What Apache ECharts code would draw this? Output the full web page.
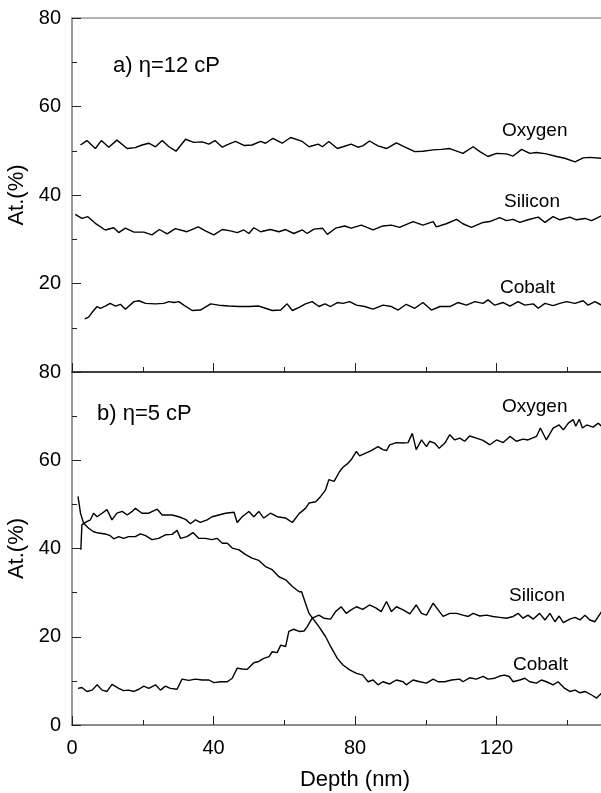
<!DOCTYPE html>
<html>
<head>
<meta charset="utf-8">
<script src="https://cdn.jsdelivr.net/npm/echarts@6/dist/echarts.min.js"></script>
<style>html,body{margin:0;padding:0;background:#fff;}#c{width:601px;height:793px;}</style>
</head>
<body>
<div id="c"></div>
<script>
// ---- Panel a) eta = 12 cP ----
const depthO12 = [2.4,4.2,6.6,8.3,10.4,12.7,15.6,17.9,19.8,21.7,23.6,25.5,27.4,29.4,32.1,34.4,36.8,38.7,40.4,42.5,44.3,46.2,48.6,50.9,53.3,54.7,56.8,59.4,61.8,65.1,67.0,69.6,70.8,72.6,75.0,76.6,78.9,80.8,82.2,84.1,86.5,88.9,91.7,94.0,96.9,99.2,102.1,104.4,106.8,110.5,113.4,115.3,117.6,120.0,122.8,124.7,127.1,129.4,131.3,134.1,137.0,139.3,142.2,144.5,146.4,149.7];
const oxygen12 = [51.3,52.3,50.5,52.3,50.8,52.4,50.5,50.7,51.3,51.7,50.9,52.3,50.9,49.9,52.6,51.9,52.0,51.5,52.3,50.8,51.5,52.1,51.2,51.3,52.1,51.7,52.8,51.7,53.0,52.1,50.9,51.5,50.9,52.1,50.5,50.9,51.5,50.8,51.1,52.2,51.1,50.5,51.8,50.9,49.8,49.9,50.2,50.3,50.5,49.4,50.9,49.8,48.7,49.4,49.3,48.8,50.3,49.4,49.6,49.3,48.7,48.3,47.5,48.4,48.5,48.3];

const depthSi12 = [0.9,2.8,4.5,6.6,9.4,11.8,13.2,15.1,17.5,20.3,22.6,24.7,26.9,29.2,32.5,35.7,37.7,40.1,42.5,44.8,46.7,48.6,50.0,51.4,53.3,56.1,58.5,60.4,62.7,65.1,66.5,68.4,70.8,72.2,74.5,77.1,78.9,81.8,85.1,87.9,90.3,92.6,96.4,99.2,102.1,103.0,105.8,108.7,110.5,112.9,116.2,118.1,120.9,122.8,124.7,126.6,128.9,131.8,133.7,136.0,137.9,140.7,142.6,145.0,146.9,149.7];
const silicon12 = [35.6,34.7,35.1,33.6,32.1,32.6,31.5,32.5,31.6,31.6,31.0,32.2,31.2,32.4,31.7,32.8,31.9,31.0,32.2,31.9,31.5,32.1,31.3,32.6,31.7,32.2,31.7,32.2,31.3,32.1,31.3,32.3,32.5,31.1,32.5,33.0,32.5,33.2,32.1,33.0,33.2,32.7,34.0,33.2,34.0,32.8,33.5,34.5,33.5,32.7,33.8,34.0,34.9,34.2,34.5,33.8,34.4,35.0,33.8,35.1,34.4,35.0,34.4,34.7,34.2,35.3];

const depthCo12 = [3.6,4.7,6.1,7.1,8.0,9.4,10.8,12.3,13.7,15.1,17.5,18.9,20.8,23.6,25.9,27.4,28.8,30.2,31.6,34.0,36.3,39.2,41.5,44.3,47.2,50.0,52.8,54.7,56.6,59.0,60.8,62.3,64.2,66.0,67.9,69.8,71.5,73.1,75.0,76.6,78.5,80.4,82.7,85.1,87.9,90.3,92.2,94.5,96.9,99.2,101.6,104.0,106.8,109.1,111.5,113.9,116.2,117.6,119.5,121.9,123.8,126.1,128.0,130.4,131.8,133.7,136.0,137.9,139.8,142.2,144.5,145.9,147.8,149.7];
const cobalt12 = [12.0,12.4,13.9,14.8,14.4,14.9,15.5,14.9,15.3,14.2,15.9,16.1,15.5,15.4,15.5,15.9,15.7,15.9,15.1,13.9,14.0,15.4,15.1,14.9,14.8,14.8,14.9,14.4,13.9,14.0,15.4,13.9,14.6,15.4,15.9,14.8,15.4,14.8,15.7,15.5,15.9,15.1,14.8,14.2,15.1,14.8,14.0,15.3,14.4,15.7,14.0,14.8,14.8,15.7,15.1,15.9,15.5,16.3,15.1,15.7,14.9,15.9,15.1,15.4,14.4,15.5,15.0,15.5,15.9,15.5,16.1,15.1,15.9,15.1];

// ---- Panel b) eta = 5 cP ----
const depthO5 = [2.5,2.8,3.3,4.2,5.2,6.1,7.1,8.5,9.9,11.3,12.7,14.2,15.6,17.0,17.9,19.8,21.7,24.1,25.5,28.3,30.2,32.1,33.5,34.9,36.3,38.2,39.6,41.5,43.4,45.8,46.7,48.1,50.0,51.4,52.8,54.2,56.1,58.0,60.4,62.3,64.2,66.0,67.0,68.9,70.3,71.7,72.6,74.1,75.6,76.6,78.0,78.9,80.4,81.3,82.7,84.6,86.5,87.9,88.9,89.8,91.7,93.6,95.0,96.2,97.3,98.8,100.2,101.1,102.5,103.8,105.4,106.8,108.2,109.6,111.0,112.4,114.3,116.2,118.1,120.0,121.9,123.8,125.6,127.5,128.9,131.3,132.4,134.1,136.0,137.7,138.9,140.3,141.7,142.4,143.4,144.3,145.5,147.3,148.8,149.7];
const oxygen5 = [39.7,45.4,45.7,46.1,46.5,48.0,47.2,48.0,48.8,46.5,48.0,48.4,47.6,48.4,49.1,48.0,48.0,48.9,47.6,47.6,47.2,46.6,45.6,46.5,45.9,46.5,47.2,47.6,48.0,48.2,45.9,47.2,48.4,47.2,48.4,46.9,48.0,47.2,46.9,45.9,47.9,49.1,50.3,50.6,51.8,53.3,55.6,55.2,57.4,58.4,59.3,60.1,62.0,61.0,61.5,62.2,63.1,62.4,62.2,63.5,64.0,63.9,64.0,66.1,62.4,64.6,63.1,64.3,63.9,62.7,63.9,65.8,64.6,65.0,64.3,65.5,65.0,64.5,63.5,64.6,64.0,65.4,64.3,64.8,64.6,65.4,67.3,64.6,67.3,68.0,66.9,68.4,69.2,67.7,69.3,67.3,68.0,67.5,68.4,67.7];

const depthSi5 = [1.7,2.8,4.2,5.7,7.1,8.5,9.9,11.3,13.2,14.6,16.0,17.5,18.9,20.3,21.7,23.6,25.0,26.4,27.8,29.7,31.1,33.0,34.9,36.8,38.7,40.1,42.0,43.9,45.3,46.7,48.1,49.5,51.4,52.8,54.2,55.7,56.6,58.0,59.0,60.4,61.3,62.7,64.2,65.6,66.5,67.9,69.8,71.2,73.1,74.5,76.1,77.5,78.9,80.4,82.2,84.1,86.0,87.4,88.9,90.3,91.7,93.6,95.5,97.3,98.8,100.2,102.1,103.5,104.9,106.8,108.7,110.5,112.0,113.4,115.3,117.2,119.0,120.9,122.8,124.7,126.1,127.5,128.9,130.4,132.2,133.7,135.1,136.5,137.7,138.9,140.7,142.2,143.6,145.0,146.4,147.8,148.8,149.7];
const silicon5 = [8.3,8.5,7.6,7.9,9.1,7.9,7.6,9.2,8.3,7.8,7.9,7.6,8.1,8.8,8.3,9.1,7.9,8.8,8.3,8.1,10.4,10.1,10.4,10.2,10.2,9.6,9.8,9.8,10.6,12.9,12.7,12.6,14.1,14.4,15.1,15.5,16.6,16.4,18.1,17.8,21.2,21.7,21.2,21.3,22.3,24.2,24.9,24.2,24.0,25.7,26.8,25.3,26.1,26.8,26.2,27.2,26.5,25.7,28.0,25.7,26.8,26.1,25.2,27.2,25.3,24.9,27.6,26.1,24.6,25.3,25.3,24.9,24.6,25.3,24.7,24.9,24.6,24.4,24.2,24.6,25.3,24.2,24.9,24.0,25.3,23.8,25.3,23.4,24.7,23.2,24.0,24.4,23.8,24.9,23.8,23.4,24.6,25.7];

const depthCo5 = [1.7,2.4,3.3,4.7,6.1,7.5,9.4,10.8,11.8,13.2,14.6,16.0,17.9,19.3,20.8,22.6,24.5,26.4,28.3,29.7,30.7,32.5,34.2,35.8,37.7,39.6,41.0,42.5,43.9,45.3,47.2,49.1,50.9,52.8,54.7,56.6,58.5,60.4,62.3,64.2,64.9,66.0,67.0,68.4,69.8,71.7,73.1,75.0,76.6,78.5,80.4,82.2,83.7,85.1,86.5,87.9,89.8,91.7,93.6,94.5,96.4,98.3,100.2,102.1,103.5,105.4,107.3,109.6,110.5,112.4,114.3,116.2,117.6,119.5,120.9,122.3,123.6,124.7,126.6,128.0,129.4,131.3,132.7,134.1,136.0,137.4,139.3,140.7,142.2,143.6,145.0,146.9,148.3,149.7];
const cobalt5 = [51.8,48.0,45.7,44.6,43.8,43.5,43.3,42.9,42.2,42.7,42.3,42.7,42.7,43.3,42.9,42.0,42.3,43.1,43.2,44.1,42.3,42.7,43.6,42.3,42.3,42.0,42.3,41.2,41.2,40.1,39.7,38.6,37.8,37.3,35.9,35.2,33.6,32.9,31.4,30.2,30.2,27.6,25.3,23.8,22.3,20.0,17.8,15.1,13.6,12.5,11.7,11.3,9.8,10.2,9.1,9.8,9.3,10.2,9.8,9.1,10.2,9.8,9.5,10.4,9.8,9.8,10.2,10.4,9.8,10.7,10.4,11.0,10.4,10.6,11.1,11.3,11.0,9.8,10.2,10.6,9.8,9.5,10.2,9.8,9.1,9.8,8.3,7.6,7.9,7.3,7.6,6.8,6.1,7.2];

const xTicks = [0, 40, 80, 120];
const yTicks = [0, 20, 40, 60, 80];
const panelTitles = ['a) η=12 cP', 'b) η=5 cP'];
const elementNames = ['Oxygen', 'Silicon', 'Cobalt'];

const FONT = 'Liberation Sans, Arial, Helvetica, sans-serif';
function zip(xs, ys) { return xs.map((x, i) => [x, ys[i]]); }

const chart = echarts.init(document.getElementById('c'), null, { renderer: 'canvas' });

function xAx(grid, opts) {
  return Object.assign({
    gridIndex: grid, type: 'value', min: 0, max: 160, interval: 40,
    axisLine: { onZero: false, lineStyle: { color: '#000', width: 1.5 } },
    axisTick: { inside: true, length: 9, lineStyle: { color: '#222', width: 1 } },
    minorTick: { show: true, splitNumber: 2, length: 5, lineStyle: { color: '#222', width: 1 } },
    axisLabel: { show: false },
    splitLine: { show: false }
  }, opts);
}
function yAx(grid, opts) {
  return Object.assign({
    gridIndex: grid, type: 'value', min: 0, max: 80, interval: 20,
    name: 'At.(%)', nameLocation: 'middle', nameGap: 36,
    nameTextStyle: { fontSize: 22, fontFamily: FONT, color: '#000' },
    axisLine: { onZero: false, lineStyle: { color: '#9a9a9a', width: 2 } },
    axisTick: { inside: true, length: 9, lineStyle: { color: '#222', width: 1 } },
    minorTick: { show: true, splitNumber: 2, length: 5, lineStyle: { color: '#222', width: 1 } },
    axisLabel: { fontSize: 20, fontFamily: FONT, color: '#000', margin: 11, padding: [5, 0, 0, 0],
      formatter: v => (yTicks.indexOf(v) >= 0 ? String(v) : '') },
    splitLine: { show: false }
  }, opts);
}

function line(name, xs, ys, xi, yi) {
  return {
    type: 'line', name: name, xAxisIndex: xi, yAxisIndex: yi,
    data: zip(xs, ys), symbol: 'none', smooth: false, animation: false,
    lineStyle: { color: '#000', width: 1.4 }
  };
}

function txt(t, x, y, size) {
  return { type: 'text', x: x, y: y,
    style: { text: t, fontSize: size, fontFamily: FONT, fill: '#000', verticalAlign: 'middle', align: 'left' } };
}

chart.setOption({
  backgroundColor: '#fff',
  animation: false,
  grid: [
    { left: 72, top: 18, width: 566, height: 354, outerBoundsMode: 'none', containLabel: false },
    { left: 72, top: 372, width: 566, height: 353, outerBoundsMode: 'none', containLabel: false }
  ],
  xAxis: [
    xAx(0, {}),
    xAx(0, { position: 'top', axisLine: { onZero: false, lineStyle: { color: '#9a9a9a', width: 1.5 } },
      axisTick: { show: false }, minorTick: { show: false } }),
    xAx(1, {
      axisLine: { onZero: false, lineStyle: { color: '#666', width: 1.5 } },
      axisLabel: { show: true, fontSize: 20, fontFamily: FONT, color: '#000', margin: 13,
        formatter: v => (xTicks.indexOf(v) >= 0 ? String(v) : '') },
      name: 'Depth (nm)', nameLocation: 'middle', nameGap: 44,
      nameTextStyle: { fontSize: 22, fontFamily: FONT, color: '#000' }
    })
  ],
  yAxis: [
    yAx(0, { axisLabel: { fontSize: 20, fontFamily: FONT, color: '#000', margin: 11, padding: [5, 0, 0, 0],
      formatter: v => (v === 0 ? '' : String(v)) } }),
    yAx(1, {})
  ],
  series: [
    line(elementNames[0], depthO12, oxygen12, 0, 0),
    line(elementNames[1], depthSi12, silicon12, 0, 0),
    line(elementNames[2], depthCo12, cobalt12, 0, 0),
    line(elementNames[0], depthO5, oxygen5, 2, 1),
    line(elementNames[1], depthSi5, silicon5, 2, 1),
    line(elementNames[2], depthCo5, cobalt5, 2, 1)
  ],
  graphic: [
    txt(panelTitles[0], 113, 66, 22),
    txt(panelTitles[1], 97, 414, 22),
    txt(elementNames[0], 502, 131, 19),
    txt(elementNames[1], 504, 202, 19),
    txt(elementNames[2], 500, 288, 19),
    txt(elementNames[0], 502, 407, 19),
    txt(elementNames[1], 509, 596, 19),
    txt(elementNames[2], 513, 665, 19)
  ]
});
</script>
</body>
</html>
